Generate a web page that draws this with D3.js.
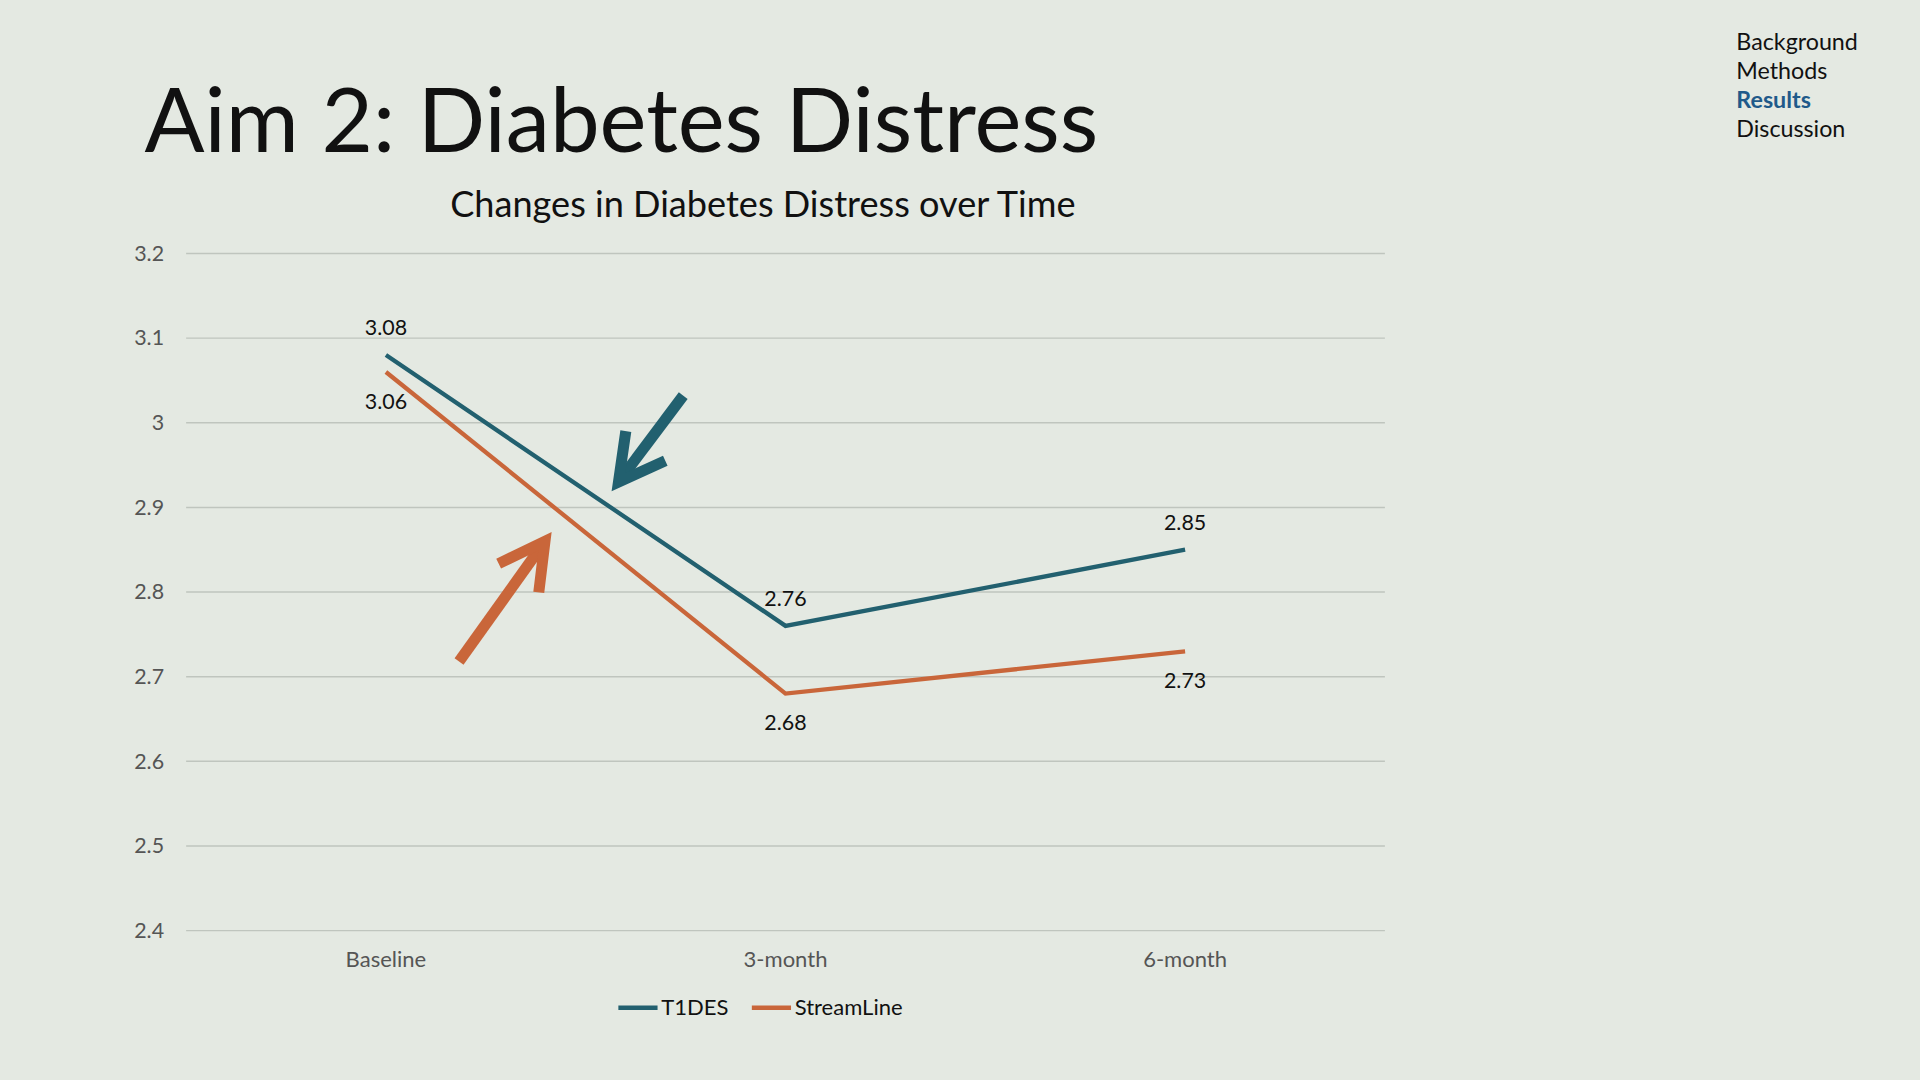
<!DOCTYPE html>
<html><head><meta charset="utf-8">
<script src="https://cdn.jsdelivr.net/npm/d3@7"></script>
<style>body{margin:0;background:#E4E9E2;overflow:hidden}</style>
</head><body>
<script>
// chart data
const categories = ['Baseline', '3-month', '6-month'];
const t1des = [3.08, 2.76, 2.85];
const streamline = [3.06, 2.68, 2.73];
const yTicks = [2.4, 2.5, 2.6, 2.7, 2.8, 2.9, 3, 3.1, 3.2];
const navItems = ['Background', 'Methods', 'Results', 'Discussion'];

const s = 1920 / 1568; // layout was measured on a 1568px wide slide
const teal = '#22606F', orange = '#C9663A';
const font = 'Lato, "Open Sans", sans-serif';

const svg = d3.select('body').append('svg')
  .attr('width', 1920).attr('height', 1080)
  .style('background', '#E4E9E2');

const g = svg.append('g').attr('transform', `scale(${s})`);

g.append('text').attr('x', 118).attr('y', 124)
  .attr('font-family', font).attr('font-size', 72.5).attr('fill', '#111')
  .text('Aim 2: Diabetes Distress');

g.selectAll('.nav').data(navItems).enter().append('text')
  .attr('x', 1418).attr('y', (d, i) => 41 + i * 23.7)
  .attr('font-family', font).attr('font-size', 19)
  .attr('font-weight', d => d === 'Results' ? 700 : 400)
  .attr('fill', d => d === 'Results' ? '#1F5A8A' : '#111')
  .text(d => d);

g.append('text').attr('x', 623).attr('y', 177).attr('text-anchor', 'middle')
  .attr('font-family', font).attr('font-size', 29.5).attr('fill', '#111')
  .text('Changes in Diabetes Distress over Time');

const x = d3.scaleBand().domain(categories).range([152, 1131]);
const cx = (i, f = 0.5) => x(categories[i]) + x.bandwidth() * f;
const y = d3.scaleLinear().domain([2.4, 3.2]).range([760, 207]);

// grid
g.selectAll('.grid').data(yTicks).enter().append('line')
  .attr('x1', 152).attr('x2', 1131)
  .attr('y1', d => y(d)).attr('y2', d => y(d))
  .attr('stroke', '#BFC5BE').attr('stroke-width', 1.2);

g.selectAll('.ytick').data(yTicks).enter().append('text')
  .attr('x', 134).attr('y', d => y(d) + 6).attr('text-anchor', 'end')
  .attr('font-family', font).attr('font-size', 17.5).attr('fill', '#555')
  .text(d => d);

g.selectAll('.xtick').data(categories).enter().append('text')
  .attr('x', d => x(d) + x.bandwidth() / 2).attr('y', 790).attr('text-anchor', 'middle')
  .attr('font-family', font).attr('font-size', 18).attr('fill', '#555')
  .text(d => d);

const line = d3.line().x((d, i) => cx(i)).y(d => y(d));
[[t1des, teal, -16], [streamline, orange, 30]].forEach(([vals, col, dy]) => {
  g.append('path').attr('d', line(vals)).attr('fill', 'none')
    .attr('stroke', col).attr('stroke-width', 3.5);
  g.selectAll(null).data(vals).enter().append('text')
    .attr('x', (d, i) => cx(i)).attr('y', d => y(d) + dy).attr('text-anchor', 'middle')
    .attr('font-family', font).attr('font-size', 17.5).attr('fill', '#111')
    .text(d => d.toFixed(2));
});

// annotation arrows: [colour, tailCat, tailFrac, tailVal, headCat, headFrac, headVal]
const arrows = [
  [teal, 1, 0.244, 3.032, 1, 0.082, 2.93],
  [orange, 0, 0.683, 2.718, 0, 0.898, 2.86]
];
arrows.forEach(([col, ti, tf, tv, hi, hf, hv]) => {
  const x1 = cx(ti, tf), y1 = y(tv), x2 = cx(hi, hf), y2 = y(hv);
  const a = Math.atan2(y2 - y1, x2 - x1), L = 42, w = 0.5;
  g.append('line').attr('x1', x1).attr('y1', y1).attr('x2', x2).attr('y2', y2)
    .attr('stroke', col).attr('stroke-width', 9);
  const p = [
    [x2 - L * Math.cos(a - w), y2 - L * Math.sin(a - w)],
    [x2, y2],
    [x2 - L * Math.cos(a + w), y2 - L * Math.sin(a + w)]
  ];
  g.append('path').attr('d', d3.line()(p)).attr('fill', 'none')
    .attr('stroke', col).attr('stroke-width', 9).attr('stroke-linejoin', 'miter');
});

// legend
const legend = [['T1DES', teal, 505], ['StreamLine', orange, 614]];
legend.forEach(([name, col, lx]) => {
  g.append('line').attr('x1', lx).attr('x2', lx + 32).attr('y1', 823).attr('y2', 823)
    .attr('stroke', col).attr('stroke-width', 3.5);
  g.append('text').attr('x', lx + 35).attr('y', 829)
    .attr('font-family', font).attr('font-size', 18).attr('fill', '#111').text(name);
});
</script>
</body></html>
